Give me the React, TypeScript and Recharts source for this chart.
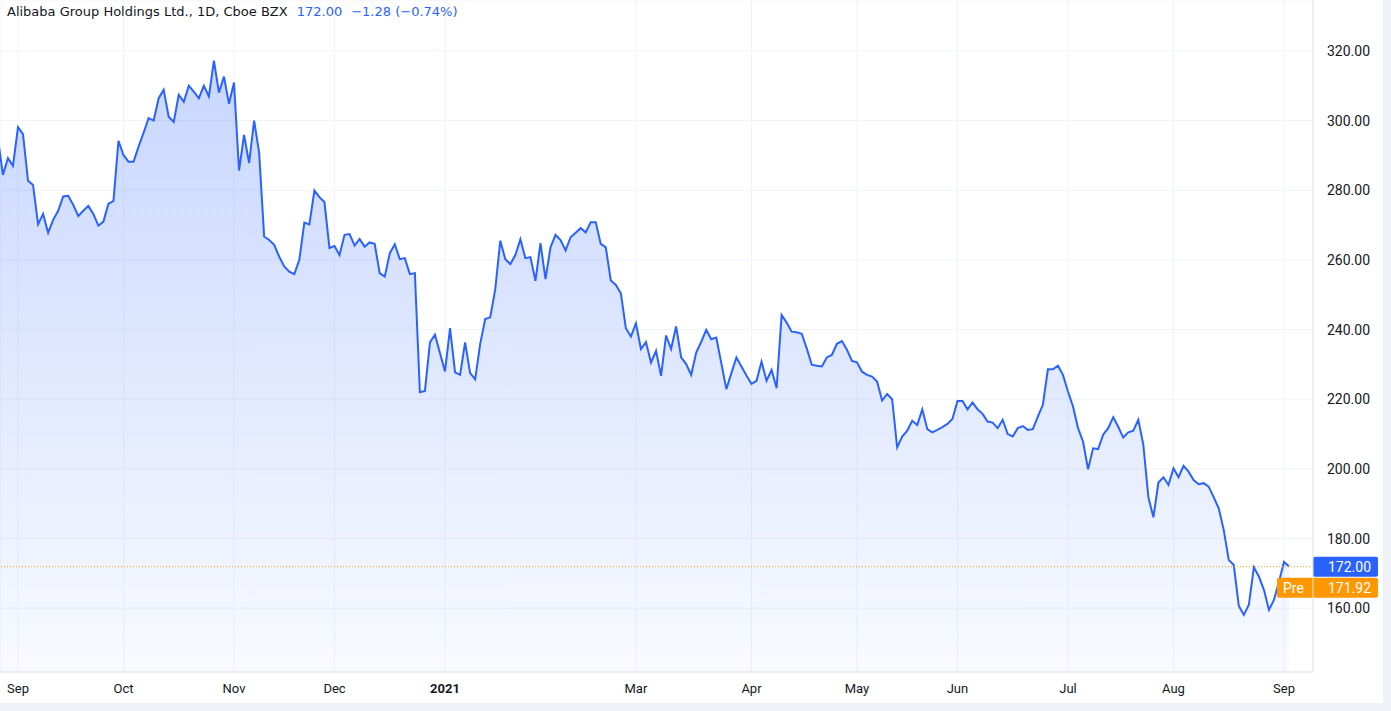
import React from 'react';
import { ComposedChart, Area, XAxis, YAxis, CartesianGrid, ReferenceLine } from 'recharts';

// daily closes, BABA (Cboe BZX)
const aug2020 = [295, 284.4, 289.2, 287];
const sep2020 = [298.1, 296.1, 282.7, 281.5, 270.2, 273.2, 267.8, 271.5, 274.1, 278.2, 278.4, 275.8, 272.6, 274.1, 275.5, 273.2, 269.8, 271, 276.1, 276.9, 294.2];
const oct2020 = [290.1, 288.2, 288.2, 292.5, 296.5, 300.7, 300, 306.4, 308.8, 301.1, 299.6, 307.4, 305.4, 310, 308.3, 306.4, 310, 306.9, 317.2, 308, 312.6, 304.8];
const nov2020 = [310.9, 285.6, 295.9, 287.8, 300, 290.8, 266.7, 265.7, 264.3, 260.9, 258.1, 256.6, 255.9, 260, 270.7, 270.2, 279.9, 278, 276.6, 263.4];
const dec2020 = [264, 261.4, 267.2, 267.4, 264.1, 266, 263.8, 265, 264.6, 256.2, 255.2, 261.9, 264.5, 260.2, 260.5, 255.9, 256.2, 222, 222.4, 236.3, 238.5, 233.2];
const jan2021 = [228, 240.4, 227.7, 227, 236.3, 227.5, 225.7, 235.9, 243, 243.5, 251.6, 265.5, 260.2, 258.8, 261.4, 265.9, 260.5, 260.8, 254];
const feb2021 = [264.8, 254.5, 263.6, 267.2, 265.7, 262.7, 266.5, 267.8, 269.1, 267.9, 270.8, 270.8, 264.6, 263.6, 254.1, 252.8, 250.4, 240.4, 238];
const mar2021 = [241.8, 234.4, 236.4, 230.5, 233.9, 226.7, 238.3, 234.4, 240.9, 232, 230.1, 227, 233.4, 236.5, 239.9, 237.2, 237.7, 230.3, 222.9, 227.5, 232, 229.4, 226.8];
const apr2021 = [224.4, 225.3, 230.8, 225.3, 228.4, 223.2, 244.2, 242, 239.4, 239.2, 238.8, 234.6, 229.9, 229.6, 229.4, 232, 232.7, 235.9, 236.7, 234.2, 231];
const may2021 = [230.6, 227.9, 227, 226.5, 225.1, 219.6, 221.5, 220, 206.2, 209.3, 211, 213.8, 212.6, 217.1, 211.4, 210.5, 211.2, 212, 212.9, 214.3];
const jun2021 = [219.5, 219.5, 217.1, 219.1, 217.1, 215.8, 213.6, 213.3, 211.7, 214.1, 210, 209.3, 211.7, 212.3, 211.2, 211.4, 215, 218.4, 228.6, 228.6, 229.6, 227];
const jul2021 = [222.2, 217.9, 211.7, 207.8, 199.9, 205.9, 205.7, 209.8, 211.7, 214.8, 212.1, 209, 210.5, 211, 214.1, 206.9, 191.9, 186.1, 196.1, 197.6, 195.4];
const aug2021 = [200.2, 197.6, 200.9, 199.2, 196.8, 195.6, 195.9, 194.9, 191.9, 188.7, 182.5, 173.9, 172.4, 160.7, 158.1, 161, 171.7, 169.1, 165.3, 159.5, 162.4, 167.6];
const sep2021 = [173.3, 172.0];

// trading-day index of the first bar of each labelled month (Sep 1 2020 = 0)
const monthTicks = [0, 21, 43, 63, 85, 123, 146, 167, 187, 209, 230, 252];
const monthLabels = ['Sep', 'Oct', 'Nov', 'Dec', '2021', 'Mar', 'Apr', 'May', 'Jun', 'Jul', 'Aug', 'Sep'];
const priceTicks = [160, 180, 200, 220, 240, 260, 280, 300, 320];

const lastClose = 172.0;
const change = -1.28;
const changePct = -0.74;
const preMarket = 171.92;

const closes = [
  ...aug2020, ...sep2020, ...oct2020, ...nov2020, ...dec2020, ...jan2021, ...feb2021,
  ...mar2021, ...apr2021, ...may2021, ...jun2021, ...jul2021, ...aug2021, ...sep2021,
];
const firstDay = -aug2020.length;
const data = closes.map((close, k) => ({ day: k + firstDay, close }));

const FONT = 'Roboto, "Liberation Sans", sans-serif';
const HEAD_FONT = '"DejaVu Sans", sans-serif';
const TEXT = '#131722';
const BLUE = '#2962FF';
const ORANGE = '#FF9800';
const fmt = (v: number) => v.toFixed(2);
const minus = (v: number) => (v < 0 ? '\u2212' + Math.abs(v).toFixed(2) : '+' + v.toFixed(2));

const MonthTick = (props: any) => {
  const { x, y, payload } = props;
  const label = monthLabels[monthTicks.indexOf(payload.value)];
  return (
    <text x={x} y={y + 13} textAnchor="middle" fontSize={13} fontFamily={FONT} fill={TEXT}
      fontWeight={label === '2021' ? 700 : 400}>
      {label}
    </text>
  );
};

const PriceLabels = (props: any) => {
  const { viewBox } = props;
  const right = viewBox.x + viewBox.width;
  const yc = viewBox.y;
  return (
    <g fontFamily={FONT} fontSize={14}>
      <rect x={right} y={yc - 10} width={65} height={20} rx={2} fill={BLUE} />
      <text x={right + 15} y={yc + 5} fill="#fff">{fmt(lastClose)}</text>
      <rect x={right - 36} y={yc + 11} width={101} height={20} rx={2} fill={ORANGE} />
      <text x={right - 30} y={yc + 26} fill="#fff">Pre</text>
      <text x={right + 15} y={yc + 26} fill="#fff">{fmt(preMarket)}</text>
    </g>
  );
};

export default function App() {
  return (
    <div style={{ position: 'absolute', left: 0, top: 0, width: 1391, height: 711, background: '#eef1f6', overflow: 'hidden' }}>
      <div style={{ position: 'absolute', left: 0, top: 0, width: 1383, height: 703, background: '#fff' }} />
      <ComposedChart width={1391} height={711} data={data} margin={{ top: 0, right: 0, bottom: 0, left: 0 }}
        style={{ position: 'absolute', left: 0, top: 0 }}>
        <defs>
          <linearGradient id="areaFill" gradientUnits="userSpaceOnUse" x1="0" y1="0" x2="0" y2="672">
            <stop offset="0" stopColor={BLUE} stopOpacity={0.28} />
            <stop offset="1" stopColor={BLUE} stopOpacity={0.03} />
          </linearGradient>
        </defs>
        <CartesianGrid stroke="#f0f3fa" strokeWidth={1} />
        <XAxis dataKey="day" type="number" domain={[-3.58, 257.77]} allowDataOverflow ticks={monthTicks}
          interval={0} height={39} tickLine={false} axisLine={{ stroke: '#e0e3eb' }} tick={<MonthTick />} />
        <YAxis orientation="right" type="number" domain={[141.7, 334.6]} allowDataOverflow ticks={priceTicks}
          width={78} tickLine={false} tickMargin={8} axisLine={{ stroke: '#e0e3eb' }} tickFormatter={fmt}
          tick={{ fill: TEXT, fontSize: 14, fontFamily: FONT }} />
        <Area type="linear" dataKey="close" stroke={BLUE} strokeWidth={2} fill="url(#areaFill)" fillOpacity={1}
          dot={false} activeDot={false} isAnimationActive={false} />
        <ReferenceLine y={preMarket} stroke={ORANGE} strokeDasharray="1 2" label={<PriceLabels />} />
      </ComposedChart>
      <div style={{ position: 'absolute', left: 7, top: 4, fontFamily: HEAD_FONT, fontSize: 13, color: TEXT, whiteSpace: 'nowrap' }}>
        Alibaba Group Holdings Ltd., 1D, Cboe BZX
        <span style={{ color: BLUE, marginLeft: 9 }}>{fmt(lastClose)}</span>
        <span style={{ color: BLUE, marginLeft: 9 }}>{minus(change)} ({minus(changePct)}%)</span>
      </div>
    </div>
  );
}
